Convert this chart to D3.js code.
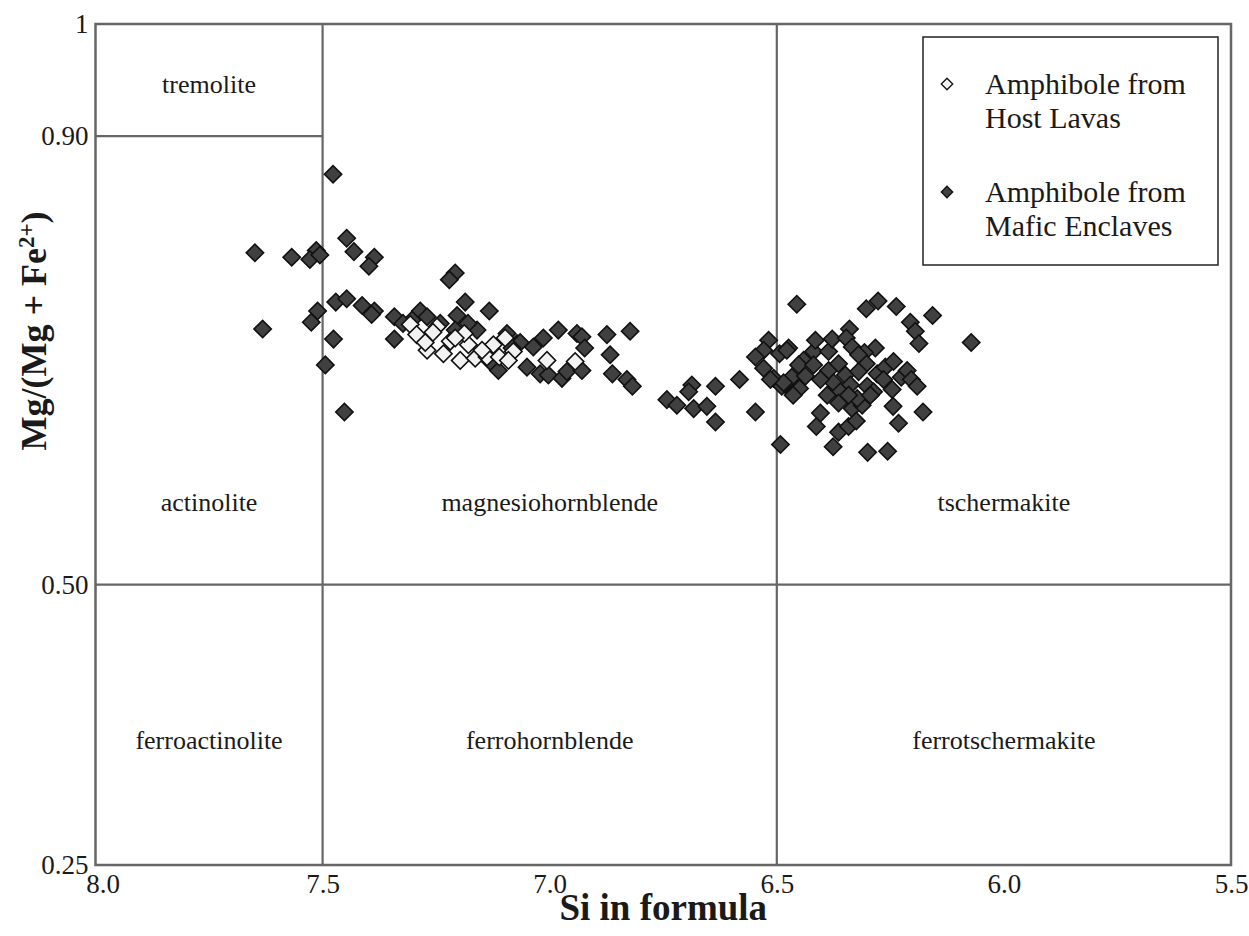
<!DOCTYPE html>
<html>
<head>
<meta charset="utf-8">
<script src="https://cdn.jsdelivr.net/npm/d3@7"></script>
<style>
  body { margin: 0; background: #fff; }
  svg text { font-family: "Liberation Serif", "Times New Roman", serif; fill: #1a1a1a; }
</style>
</head>
<body>
<div id="chart"></div>
<script>
// Si in formula vs Mg/(Mg+Fe2+)
const xTicks = [8.0, 7.5, 7.0, 6.5, 6.0, 5.5];
const yTicks = [1, 0.90, 0.50, 0.25];
const yTickLabels = ["1", "0.90", "0.50", "0.25"];

const fields = ["tremolite", "actinolite", "magnesiohornblende", "tschermakite",
                "ferroactinolite", "ferrohornblende", "ferrotschermakite"];
const fieldX = [7.75, 7.75, 7.0, 6.0, 7.75, 7.0, 6.0];
const fieldY = [0.946, 0.573, 0.573, 0.573, 0.361, 0.361, 0.361];

// Amphibole from Host Lavas
const hostSi = [7.307, 7.293, 7.270, 7.248, 7.234, 7.219, 7.197, 7.179, 7.188, 7.164,
                7.138, 7.124, 7.111, 7.098, 7.080, 7.006, 6.944, 7.208, 7.274, 7.149,
                7.091, 7.257];
const hostMg = [0.732, 0.723, 0.709, 0.730, 0.706, 0.717, 0.700, 0.714, 0.724, 0.702,
                0.703, 0.714, 0.703, 0.720, 0.708, 0.700, 0.699, 0.720, 0.716, 0.709,
                0.700, 0.725];

// Amphibole from Mafic Enclaves
const maficSi = [7.477, 7.649, 7.568, 7.514, 7.528, 7.506, 7.447, 7.431, 7.386, 7.398,
                 7.632, 7.511, 7.525, 7.471, 7.447, 7.413, 7.386, 7.392, 7.476, 7.494,
                 7.452, 7.342, 7.342, 7.285, 7.208, 7.221, 7.186, 7.133, 7.204, 6.981,
                 6.940, 6.929, 6.874, 6.823, 6.923, 6.867, 6.862, 6.830, 6.818, 6.742,
                 6.720, 6.687, 6.694, 6.683, 6.654, 6.635, 6.635, 6.582, 6.547, 6.518,
                 6.529, 6.547, 6.529, 6.507, 6.494, 6.474, 6.489, 6.467, 6.492, 6.456,
                 6.463, 6.303, 6.277, 6.237, 6.157, 6.206, 6.195, 6.187, 6.072, 6.478,
                 6.419, 6.386, 6.378, 6.340, 6.347, 6.334, 6.283, 6.307, 6.303, 6.441,
                 6.452, 6.419, 6.485, 6.450, 6.464, 6.386, 6.364, 6.349, 6.375, 6.338,
                 6.360, 6.389, 6.364, 6.334, 6.312, 6.323, 6.301, 6.287, 6.279, 6.261,
                 6.265, 6.246, 6.226, 6.213, 6.204, 6.191, 6.244, 6.178, 6.232, 6.404,
                 6.413, 6.364, 6.342, 6.325, 6.376, 6.300, 6.256, 7.303, 7.160, 7.094,
                 7.072, 7.036, 7.014, 7.113, 7.050, 7.021, 7.003, 6.973, 6.962, 6.929,
                 7.241, 7.180, 7.270, 7.323, 7.131, 7.065, 7.208, 7.083, 6.514, 6.437,
                 6.404, 6.320, 6.342, 6.294, 6.243, 6.415, 6.320];
const maficMg = [0.866, 0.796, 0.792, 0.798, 0.790, 0.794, 0.809, 0.797, 0.792, 0.784,
                 0.728, 0.744, 0.734, 0.752, 0.755, 0.749, 0.744, 0.741, 0.719, 0.696,
                 0.654, 0.739, 0.719, 0.744, 0.778, 0.772, 0.752, 0.744, 0.740, 0.727,
                 0.724, 0.721, 0.723, 0.726, 0.711, 0.705, 0.688, 0.683, 0.677, 0.665,
                 0.660, 0.678, 0.672, 0.657, 0.659, 0.677, 0.645, 0.683, 0.654, 0.718,
                 0.709, 0.703, 0.693, 0.684, 0.706, 0.711, 0.677, 0.685, 0.625, 0.750,
                 0.671, 0.746, 0.753, 0.748, 0.740, 0.734, 0.726, 0.715, 0.716, 0.709,
                 0.708, 0.708, 0.719, 0.728, 0.720, 0.712, 0.711, 0.707, 0.697, 0.700,
                 0.696, 0.696, 0.680, 0.675, 0.669, 0.691, 0.697, 0.687, 0.680, 0.678,
                 0.672, 0.669, 0.662, 0.657, 0.660, 0.666, 0.677, 0.672, 0.688, 0.694,
                 0.683, 0.674, 0.685, 0.691, 0.683, 0.677, 0.659, 0.654, 0.644, 0.653,
                 0.641, 0.636, 0.641, 0.646, 0.623, 0.618, 0.619, 0.736, 0.727, 0.724,
                 0.715, 0.712, 0.720, 0.691, 0.694, 0.688, 0.687, 0.684, 0.690, 0.691,
                 0.733, 0.733, 0.739, 0.733, 0.699, 0.716, 0.727, 0.711, 0.683, 0.686,
                 0.683, 0.690, 0.669, 0.669, 0.699, 0.718, 0.705];

const seriesNames = ["Amphibole from Host Lavas", "Amphibole from Mafic Enclaves"];

const width = 1249, height = 936;
const margin = { top: 24, right: 18, bottom: 71, left: 95.5 };
const serif = "'Liberation Serif', 'Times New Roman', serif";

const svg = d3.select("#chart").append("svg")
  .attr("width", width)
  .attr("height", height);

const x = d3.scaleLinear()
  .domain([8.0, 5.5])
  .range([margin.left, width - margin.right]);

const y = d3.scaleLinear()
  .domain([0.25, 1])
  .range([height - margin.bottom, margin.top]);

const lineColor = "#666";

// field boundaries
const g = svg.append("g");
const seg = (x1, y1, x2, y2) => g.append("line")
  .attr("x1", x(x1)).attr("y1", y(y1))
  .attr("x2", x(x2)).attr("y2", y(y2))
  .attr("stroke", lineColor).attr("stroke-width", 2.2);

seg(7.5, 0.25, 7.5, 1);
seg(6.5, 0.25, 6.5, 1);
seg(8.0, 0.9, 7.5, 0.9);
seg(8.0, 0.5, 5.5, 0.5);

// plot frame
svg.append("rect")
  .attr("x", x(8.0)).attr("y", y(1))
  .attr("width", x(5.5) - x(8.0))
  .attr("height", y(0.25) - y(1))
  .attr("fill", "none")
  .attr("stroke", lineColor)
  .attr("stroke-width", 2.5);

// field names
svg.append("g").selectAll("text")
  .data(fields)
  .join("text")
  .attr("x", (d, i) => x(fieldX[i]))
  .attr("y", (d, i) => y(fieldY[i]))
  .attr("text-anchor", "middle")
  .attr("dominant-baseline", "central")
  .attr("font-size", 26)
  .text(d => d);

// axes labels (no tick marks in the original)
const xAxis = d3.axisBottom(x).tickValues(xTicks).tickFormat(d3.format(".1f")).tickSize(0).tickPadding(9);
const xg = svg.append("g")
  .attr("transform", `translate(0,${y(0.25)})`)
  .call(xAxis);
xg.select(".domain").remove();
xg.selectAll("text")
  .style("font-family", serif)
  .style("font-size", "27px")
  .style("fill", "#1a1a1a")
  .attr("dx", d => d === 8.0 ? 7 : 0);

const yAxis = d3.axisLeft(y).tickValues(yTicks)
  .tickFormat((d, i) => yTickLabels[i]).tickSize(0).tickPadding(7);
const yg = svg.append("g")
  .attr("transform", `translate(${x(8.0)},0)`)
  .call(yAxis);
yg.select(".domain").remove();
yg.selectAll("text")
  .style("font-family", serif)
  .style("font-size", "27px")
  .style("fill", "#1a1a1a");

// axis titles
svg.append("text")
  .attr("x", (x(8.0) + x(5.5)) / 2)
  .attr("y", 920)
  .attr("text-anchor", "middle")
  .attr("font-size", 37)
  .attr("font-weight", "bold")
  .text("Si in formula");

const yt = svg.append("text")
  .attr("transform", "translate(46,331) rotate(-90)")
  .attr("text-anchor", "middle")
  .attr("font-size", 36)
  .attr("font-weight", "bold");
yt.append("tspan").text("Mg/(Mg + Fe");
yt.append("tspan").attr("baseline-shift", "super").attr("font-size", 23).text("2+");
yt.append("tspan").text(")");

// points
const diamond = d3.symbol().type(d3.symbolSquare).size(150);
const drawPoints = (xs, ys, fill) => svg.append("g")
  .selectAll("path")
  .data(xs.map((v, i) => [v, ys[i]]))
  .join("path")
  .attr("d", diamond)
  .attr("transform", d => `translate(${x(d[0])},${y(d[1])}) rotate(45)`)
  .attr("fill", fill)
  .attr("stroke", "#111")
  .attr("stroke-width", 1.6);

drawPoints(maficSi, maficMg, "#404040");
drawPoints(hostSi, hostMg, "#f2f2f2");

// legend
const lg = svg.append("g").attr("transform", "translate(923,37)");
lg.append("rect")
  .attr("width", 295).attr("height", 228)
  .attr("fill", "#fff")
  .attr("stroke", "#222")
  .attr("stroke-width", 1.5);

const legendFill = ["#f2f2f2", "#404040"];
const smallDiamond = d3.symbol().type(d3.symbolSquare).size(66);
seriesNames.forEach((name, i) => {
  const top = i === 0 ? 57 : 165;
  lg.append("path")
    .attr("d", smallDiamond)
    .attr("transform", `translate(24,${top - 10}) rotate(45)`)
    .attr("fill", legendFill[i])
    .attr("stroke", "#111")
    .attr("stroke-width", 1.3);
  const words = name.split(" ");
  const line1 = words.slice(0, 2).join(" ");
  const line2 = words.slice(2).join(" ");
  lg.append("text").attr("x", 62).attr("y", top).attr("font-size", 30).text(line1);
  lg.append("text").attr("x", 62).attr("y", top + 34).attr("font-size", 30).text(line2);
});
</script>
</body>
</html>
